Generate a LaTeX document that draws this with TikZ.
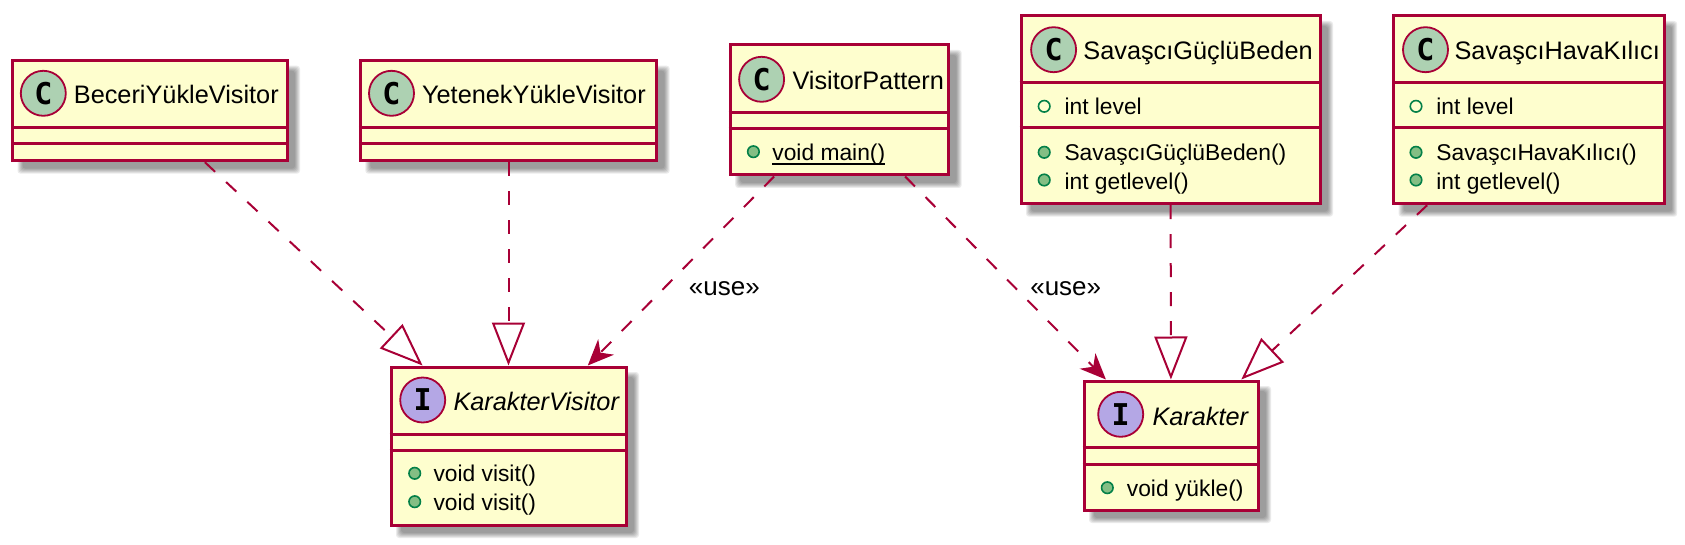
\documentclass[tikz,border=0pt]{standalone}
\usepackage{fontspec}
\usepackage{tikz}
\usetikzlibrary{arrows.meta}
\setmainfont{Liberation Sans}
\newfontfamily\glyphfont{DejaVu Sans Mono}

\definecolor{umlred}{HTML}{A80036}
\definecolor{umlbox}{HTML}{FEFECE}
\definecolor{umlclass}{HTML}{ADD1B2}
\definecolor{umliface}{HTML}{B4A7E5}
\definecolor{umlgreen}{HTML}{038048}
\definecolor{umldot}{HTML}{84BE84}

\tikzset{
  classbox/.style={draw=umlred,fill=umlbox,line width=3,inner sep=0,outer sep=1.5,rectangle},
  divider/.style={draw=umlred,line width=3},
  classmark/.style={circle,draw=umlred,fill=umlclass,line width=1.8,minimum size=45,inner sep=0,
    font=\glyphfont\bfseries\fontsize{30}{30}\selectfont},
  ifacemark/.style={classmark,fill=umliface},
  classname/.style={anchor=base west,inner sep=0,font=\fontsize{25.3}{30}\selectfont},
  ifacename/.style={classname,font=\itshape\fontsize{25.3}{30}\selectfont},
  member/.style={anchor=base west,inner sep=0,font=\fontsize{22.8}{28}\selectfont},
  pubdot/.style={circle,draw=umlgreen,fill=umldot,line width=1.6,minimum size=11.5,inner sep=0},
  fielddot/.style={pubdot,fill=none},
  realize/.style={draw=umlred,line width=2,dash pattern=on 14 off 15,
    -{Triangle[open,length=43,width=33,line width=2]}},
  uses/.style={draw=umlred,line width=2,dash pattern=on 14 off 15,
    -{Stealth[length=26,width=22,inset=8]}},
  uselabel/.style={inner sep=0,font=\fontsize{26}{30}\selectfont}
}

% soft shadow, then the box itself: name, left, top, right, bottom (outer edges)
\newcommand{\classblock}[5]{
  \foreach \g in {0,1,...,5}
    \fill [black,opacity=.08,rounded corners=3] (#2+5+\g,#3+5+\g) rectangle (#4+13-\g,#5+13-\g);
  \node [classbox,minimum width=#4-#2,minimum height=#5-#3] (#1) at ({(#2+#4)/2},{(#3+#5)/2}) {};
}

\begin{document}
\begin{tikzpicture}[x=1pt,y=-1pt]

\useasboundingbox (0,0) rectangle (1685,545);

%BeceriYukleVisitor
\classblock{beceri}{12.5}{60.7}{287}{160.7}
\draw [divider] (beceri.west |- 0,127.7) -- (beceri.east |- 0,127.7);
\draw [divider] (beceri.west |- 0,143.7) -- (beceri.east |- 0,143.7);
\node [classmark] (becerimark) at (43.3,93.3) {C};
\node [classname] (becerititle) at (73.7,104) {BeceriYükleVisitor};

%YetenekYukleVisitor
\classblock{yetenek}{360.3}{60.7}{656.7}{160.7}
\draw [divider] (yetenek.west |- 0,127.7) -- (yetenek.east |- 0,127.7);
\draw [divider] (yetenek.west |- 0,143.7) -- (yetenek.east |- 0,143.7);
\node [classmark] (yetenekmark) at (391.5,93.3) {C};
\node [classname] (yetenektitle) at (421.9,104) {YetenekYükleVisitor};

%VisitorPattern
\classblock{pattern}{730.2}{45}{948.7}{175}
\draw [divider] (pattern.west |- 0,112.7) -- (pattern.east |- 0,112.7);
\draw [divider] (pattern.west |- 0,129) -- (pattern.east |- 0,129);
\node [classmark] (patternmark) at (761.6,79.3) {C};
\node [classname] (patterntitle) at (792.3,89.3) {VisitorPattern};
\node [pubdot] (patterndot) at (753.4,151.7) {};
\node [member] (patternmain) at (772.2,161) {void main()};
\draw [black,line width=1.5] ([yshift=-3]patternmain.base west) -- ([yshift=-3]patternmain.base east);

%SavasciGucluBeden
\classblock{beden}{1021}{16}{1320}{203.7}
\draw [divider] (beden.west |- 0,83) -- (beden.east |- 0,83);
\draw [divider] (beden.west |- 0,128) -- (beden.east |- 0,128);
\node [classmark] (bedenmark) at (1053.6,49.7) {C};
\node [classname] (bedentitle) at (1083.2,60) {SavaşcıGüçlüBeden};
\node [fielddot] (bedendota) at (1044.2,106.3) {};
\node [member] (bedenlevel) at (1064.3,115) {int level};
\node [pubdot] (bedendotb) at (1044.2,152.3) {};
\node [member] (bedenctor) at (1064.3,161) {SavaşcıGüçlüBeden()};
\node [pubdot] (bedendotc) at (1044.2,180) {};
\node [member] (bedenget) at (1064.3,189.3) {int getlevel()};

%SavasciHavaKilici
\classblock{hava}{1393.5}{16}{1664.2}{203.7}
\draw [divider] (hava.west |- 0,83) -- (hava.east |- 0,83);
\draw [divider] (hava.west |- 0,128) -- (hava.east |- 0,128);
\node [classmark] (havamark) at (1425.5,49.7) {C};
\node [classname] (havatitle) at (1454.4,60) {SavaşcıHavaKılıcı};
\node [fielddot] (havadota) at (1416,106.3) {};
\node [member] (havalevel) at (1436.2,115) {int level};
\node [pubdot] (havadotb) at (1416,152.3) {};
\node [member] (havactor) at (1436.2,161) {SavaşcıHavaKılıcı()};
\node [pubdot] (havadotc) at (1416,180) {};
\node [member] (havaget) at (1436.2,189.3) {int getlevel()};

%KarakterVisitor
\classblock{visitor}{391}{367}{626}{525}
\draw [divider] (visitor.west |- 0,434) -- (visitor.east |- 0,434);
\draw [divider] (visitor.west |- 0,450) -- (visitor.east |- 0,450);
\node [ifacemark] (visitormark) at (422.7,400) {I};
\node [ifacename] (visitortitle) at (453.3,410) {KarakterVisitor};
\node [pubdot] (visitordota) at (414.7,473.3) {};
\node [member] (visitorvisita) at (433.3,481.7) {void visit()};
\node [pubdot] (visitordotb) at (414.7,501.7) {};
\node [member] (visitorvisitb) at (433.3,510) {void visit()};

%Karakter
\classblock{karakter}{1084}{381}{1258}{510}
\draw [divider] (karakter.west |- 0,447) -- (karakter.east |- 0,447);
\draw [divider] (karakter.west |- 0,464) -- (karakter.east |- 0,464);
\node [ifacemark] (karaktermark) at (1120.7,414.3) {I};
\node [ifacename] (karaktertitle) at (1152.3,425) {Karakter};
\node [pubdot] (karakterdot) at (1107.3,487.7) {};
\node [member] (karakteryukle) at (1126.7,496.7) {void yükle()};

%connectors
\draw [realize] (beceri) -- (visitor);
\draw [realize] (yetenek) -- (visitor);
\draw [uses] (pattern) -- (visitor);
\draw [uses] (pattern) -- (karakter);
\draw [realize] (beden) -- (karakter);
\draw [realize] (hava) -- (karakter);

%labels
\node [uselabel] (usea) at (724.3,289) {«use»};
\node [uselabel] (useb) at (1065.7,289) {«use»};

\end{tikzpicture}
\end{document}
